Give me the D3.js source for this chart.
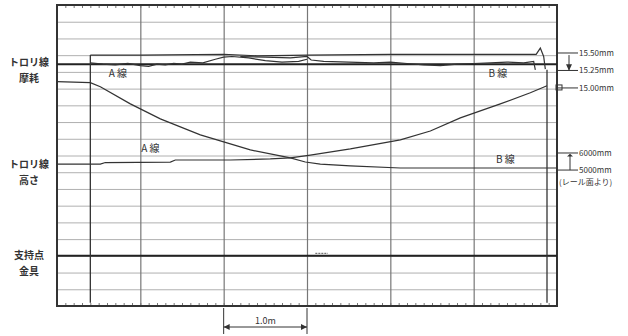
<!DOCTYPE html>
<html>
<head>
<meta charset="utf-8">
<script src="https://cdn.jsdelivr.net/npm/d3@7"></script>
<style>
  body { margin: 0; background: #fff; }
  text { font-family: "Noto Sans CJK JP", "Noto Sans", sans-serif; fill: #333; }
</style>
</head>
<body>
<div class="recorderChart"></div>
<script>
// distance along the wire, metres (one grid division = 1.0 m)
const distTicks = [0, 1, 2, 3, 4, 5, 6];
const passMarks = [0.40, 5.88];
const scaleBar = [2, 3];

// trolley wire wear, mm
const wearTicks = [15.50, 15.25, 15.00];
const wearRef = 15.34;
const wearUpper = [[0.40, 15.47], [1.0, 15.47], [2.0, 15.48], [2.4, 15.46], [3.0, 15.47], [4.0, 15.48], [5.0, 15.48], [5.75, 15.48], [5.80, 15.57], [5.84, 15.45], [5.86, 15.27]];
const wearA = [[0.40, 15.36], [0.55, 15.34], [0.70, 15.33], [0.85, 15.35], [1.0, 15.32], [1.1, 15.31], [1.2, 15.34], [1.3, 15.33], [1.4, 15.35], [1.5, 15.34], [1.6, 15.37], [1.75, 15.36], [1.9, 15.41], [2.0, 15.44], [2.1, 15.45], [2.3, 15.43], [2.5, 15.39], [2.7, 15.37], [2.9, 15.38], [3.0, 15.41]];
const wearB = [[2.2, 15.45], [2.5, 15.44], [2.8, 15.43], [3.0, 15.45], [3.05, 15.40], [3.2, 15.38], [3.5, 15.37], [3.8, 15.36], [4.0, 15.37], [4.2, 15.35], [4.4, 15.33], [4.6, 15.32], [4.8, 15.34], [5.0, 15.35], [5.2, 15.36], [5.4, 15.37], [5.6, 15.36], [5.72, 15.38], [5.74, 15.26]];

// trolley wire height above rail, mm
const heightTicks = [6000, 5000];
const heightA = [[0.00, 5350], [0.52, 5350], [0.58, 5440], [1.36, 5470], [1.42, 5590], [2.08, 5590], [2.56, 5650], [2.80, 5710], [3.04, 5880], [3.52, 6240], [4.12, 6770], [4.48, 7290], [4.84, 8060], [5.32, 8880], [5.68, 9530], [5.88, 9940]];
const heightB = [[0.00, 10180], [0.40, 10120], [0.52, 9880], [0.88, 8880], [1.24, 8000], [1.72, 7060], [2.32, 6180], [2.80, 5710], [2.98, 5470], [3.16, 5350], [3.52, 5240], [4.12, 5120], [6.00, 5120]];

const rowLabels = [["トロリ線", "摩耗"], ["トロリ線", "高さ"], ["支持点", "金具"]];

const drawChart = () => {
  const width = 628, height = 336;
  const left = 57, right = 557, top = 5, bottom = 306;
  const svg = d3.select(".recorderChart").append("svg")
    .attr("width", width).attr("height", height);

  const x = d3.scaleLinear().domain([0, 6]).range([left, right]);
  const row = d3.scaleLinear().domain([0, 18]).range([top, bottom]);
  const yWear = d3.scaleLinear().domain([15.0, 15.5]).range([row(4.96), row(2.87)]);
  const yHeight = d3.scaleLinear().domain([5000, 6000]).range([row(9.87), row(8.85)]);

  // grid: horizontal divisions
  svg.append("g")
    .attr("transform", `translate(${left},0)`)
    .call(d3.axisLeft(row).tickValues(d3.range(1, 18)).tickSize(-(right - left)).tickFormat(""))
    .call(g => g.select(".domain").remove())
    .selectAll("line").attr("stroke", "#b0b0b0").attr("stroke-width", 1);

  // grid: 1 m verticals
  svg.append("g")
    .attr("transform", `translate(0,${bottom})`)
    .call(d3.axisBottom(x).tickValues(distTicks.slice(1, -1)).tickSize(-(bottom - top)).tickFormat(""))
    .call(g => g.select(".domain").remove())
    .selectAll("line").attr("stroke", "#777").attr("stroke-width", 1.2);

  // minor ticks on top and bottom edges
  const minor = d3.range(0, 60).map(i => i / 10);
  svg.append("g").attr("transform", `translate(0,${top})`)
    .call(d3.axisBottom(x).tickValues(minor).tickSize(3).tickFormat(""))
    .call(g => g.select(".domain").remove())
    .selectAll("line").attr("stroke", "#777");
  svg.append("g").attr("transform", `translate(0,${bottom})`)
    .call(d3.axisTop(x).tickValues(minor).tickSize(3).tickFormat(""))
    .call(g => g.select(".domain").remove())
    .selectAll("line").attr("stroke", "#777");

  // frame
  svg.append("rect").attr("x", left).attr("y", top)
    .attr("width", right - left).attr("height", bottom - top)
    .attr("fill", "none").attr("stroke", "#333").attr("stroke-width", 2);

  const line = yScale => d3.line().x(d => x(d[0])).y(d => yScale(d[1]));

  // wear reference and support fitting lines
  svg.append("line").attr("x1", x(0)).attr("x2", x(6))
    .attr("y1", yWear(wearRef)).attr("y2", yWear(wearRef))
    .attr("stroke", "#222").attr("stroke-width", 2);
  svg.append("line").attr("x1", x(0)).attr("x2", x(6))
    .attr("y1", row(15)).attr("y2", row(15))
    .attr("stroke", "#222").attr("stroke-width", 2);
  svg.append("line").attr("x1", x(3.1)).attr("x2", x(3.25))
    .attr("y1", row(14.85)).attr("y2", row(14.85))
    .attr("stroke", "#555").attr("stroke-width", 1).attr("stroke-dasharray", "2,1");

  // pantograph pass markers
  svg.selectAll(".pass").data(passMarks).enter().append("line")
    .attr("x1", d => x(d)).attr("x2", d => x(d))
    .attr("y1", (d, i) => i === 0 ? yWear(15.47) : yWear(15.26))
    .attr("y2", row(17.8))
    .attr("stroke", "#333").attr("stroke-width", 1.3);

  // traces
  [[wearUpper, yWear], [wearA, yWear], [wearB, yWear], [heightA, yHeight], [heightB, yHeight]]
    .forEach(([data, ys]) => {
      svg.append("path").datum(data).attr("d", line(ys))
        .attr("fill", "none").attr("stroke", "#333").attr("stroke-width", 1.2);
    });

  // series labels
  const lbl = [["A 線", 0.73, yWear(15.21)], ["B 線", 5.29, yWear(15.20)],
               ["A 線", 1.12, yHeight(6290)], ["B 線", 5.38, yHeight(5590)]];
  svg.selectAll(".serLbl").data(lbl).enter().append("text")
    .attr("x", d => x(d[1])).attr("y", d => d[2]).attr("dy", "0.35em")
    .attr("text-anchor", "middle").attr("font-size", 10).text(d => d[0]);

  // row labels on the left
  const rowPos = [yWear(wearRef) + 6, yHeight(5300) + 8, row(15.45)];
  rowLabels.forEach((lines, i) => {
    lines.forEach((t, j) => {
      svg.append("text").attr("x", 29).attr("y", rowPos[i] - 8 + j * 16).attr("dy", "0.35em")
        .attr("text-anchor", "middle").attr("font-size", 10).attr("font-weight", "bold").text(t);
    });
  });

  // right side annotations: wear
  const ann = svg.append("g");
  wearTicks.forEach(v => {
    ann.append("line").attr("x1", right).attr("x2", right + 21)
      .attr("y1", yWear(v)).attr("y2", yWear(v)).attr("stroke", "#333");
    ann.append("text").attr("x", right + 22).attr("y", yWear(v)).attr("dy", "0.35em")
      .attr("font-size", 8).text(v.toFixed(2) + "mm");
  });
  ann.append("line").attr("x1", right + 12).attr("x2", right + 12)
    .attr("y1", yWear(15.47)).attr("y2", yWear(15.26)).attr("stroke", "#333");
  ann.append("path")
    .attr("d", `M${right + 9},${yWear(15.28) - 4}L${right + 15},${yWear(15.28) - 4}L${right + 12},${yWear(15.26) + 1}Z`)
    .attr("fill", "#333");
  ann.append("rect").attr("x", right - 1).attr("y", yWear(15.0) - 3).attr("width", 6).attr("height", 5)
    .attr("fill", "none").attr("stroke", "#333");

  // right side annotations: height
  heightTicks.forEach(v => {
    ann.append("line").attr("x1", right).attr("x2", right + 21)
      .attr("y1", yHeight(v)).attr("y2", yHeight(v)).attr("stroke", "#333");
    ann.append("text").attr("x", right + 22).attr("y", yHeight(v)).attr("dy", "0.35em")
      .attr("font-size", 8).text(v + "mm");
  });
  ann.append("line").attr("x1", right + 13).attr("x2", right + 13)
    .attr("y1", yHeight(5000)).attr("y2", yHeight(5900)).attr("stroke", "#333");
  ann.append("path")
    .attr("d", `M${right + 10},${yHeight(5800)}L${right + 16},${yHeight(5800)}L${right + 13},${yHeight(5950)}Z`)
    .attr("fill", "#333");
  ann.append("text").attr("x", right + 2).attr("y", yHeight(5000) + 12).attr("dy", "0.35em")
    .attr("font-size", 8).text("(レール面より)");

  // scale bar under the chart
  const [s0, s1] = scaleBar;
  const sb = svg.append("g").attr("stroke", "#333");
  scaleBar.forEach(d => sb.append("line").attr("x1", x(d)).attr("x2", x(d))
    .attr("y1", bottom + 2).attr("y2", bottom + 28));
  sb.append("line").attr("x1", x(s0)).attr("x2", x(s1))
    .attr("y1", bottom + 21).attr("y2", bottom + 21);
  sb.append("path").attr("stroke", "none").attr("fill", "#333")
    .attr("d", `M${x(s0)},${bottom + 21}l6,-3v6Z M${x(s1)},${bottom + 21}l-6,-3v6Z`);
  svg.append("text").attr("x", x((s0 + s1) / 2)).attr("y", bottom + 15).attr("dy", "0.35em")
    .attr("text-anchor", "middle").attr("font-size", 9).text((s1 - s0).toFixed(1) + "m");
};

drawChart();
</script>
</body>
</html>
